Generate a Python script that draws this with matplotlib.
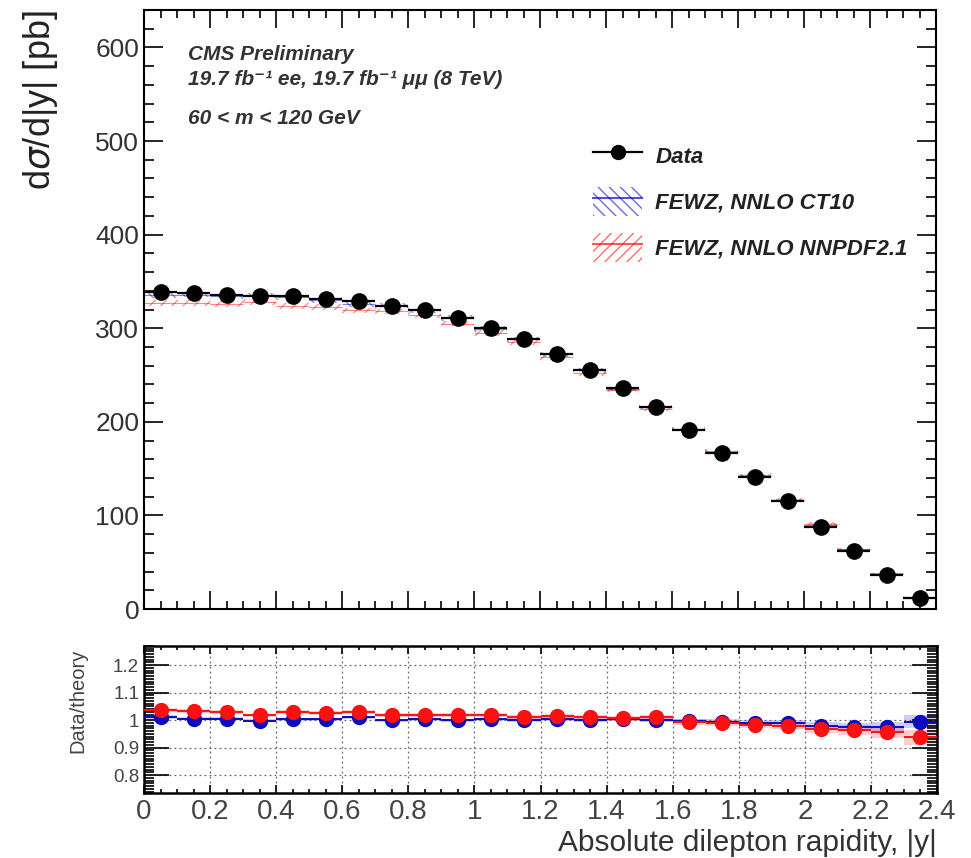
import matplotlib

matplotlib.use("Agg")
import matplotlib.pyplot as plt
import numpy as np
from matplotlib.lines import Line2D
from matplotlib.patches import Patch
from matplotlib.ticker import MultipleLocator

plt.rcParams["font.family"] = ["Liberation Sans", "DejaVu Sans"]

# --- data ---------------------------------------------------------------------
bin_edges = [0.0, 0.1, 0.2, 0.3, 0.4, 0.5, 0.6, 0.7, 0.8, 0.9, 1.0, 1.1, 1.2,
             1.3, 1.4, 1.5, 1.6, 1.7, 1.8, 1.9, 2.0, 2.1, 2.2, 2.3, 2.4]
bin_centers = [0.05, 0.15, 0.25, 0.35, 0.45, 0.55, 0.65, 0.75, 0.85, 0.95, 1.05, 1.15,
               1.25, 1.35, 1.45, 1.55, 1.65, 1.75, 1.85, 1.95, 2.05, 2.15, 2.25, 2.35]

data_xsec = [339, 338, 336, 334, 334, 331, 329, 324, 320, 311, 300, 288,
             273, 255, 236, 216, 191, 167, 141, 115, 88, 62, 36, 12]
data_err = [2, 2, 2, 2, 2, 2, 2, 2, 2, 2, 2, 2, 2, 2, 2, 2, 2, 2, 2, 2, 2, 1.5, 1.5, 1]

ct10_xsec = [335, 336, 334, 335, 333, 330, 326, 324, 319, 311, 299, 288,
             272, 255, 235, 216, 192, 168, 142, 116, 90, 64, 37, 12]
ct10_err = [3, 3, 3, 3, 3, 3, 3, 3, 3, 3, 3, 3, 2.5, 2.5, 2.5, 2.5, 2, 2, 2, 1.5, 1.5, 1, 1, 0.8]
nnpdf_xsec = [327, 327, 326, 328, 324, 323, 319, 318, 314, 305, 295, 285,
              269, 252, 234, 214, 192, 169, 143, 117, 91, 64, 38, 13]
nnpdf_err = [3, 3, 3, 3, 3, 3, 3, 3, 3, 3, 3, 3, 2.5, 2.5, 2.5, 2.5, 2, 2, 2, 1.5, 1.5, 1, 1, 0.8]

ratio_ct10 = [1.012, 1.005, 1.005, 0.998, 1.003, 1.003, 1.010, 1.000, 1.003, 1.000, 1.003, 1.000,
              1.005, 1.000, 1.005, 1.000, 0.997, 0.995, 0.990, 0.990, 0.980, 0.975, 0.975, 0.995]
ratio_ct10_err = [0.006, 0.006, 0.006, 0.006, 0.006, 0.006, 0.006, 0.006, 0.006, 0.006, 0.006, 0.007,
                  0.007, 0.007, 0.008, 0.008, 0.009, 0.010, 0.011, 0.012, 0.014, 0.016, 0.020, 0.025]
ratio_nnpdf = [1.036, 1.033, 1.030, 1.017, 1.030, 1.025, 1.030, 1.020, 1.020, 1.018, 1.018, 1.012,
               1.016, 1.010, 1.007, 1.010, 0.993, 0.990, 0.983, 0.980, 0.969, 0.964, 0.957, 0.937]
ratio_nnpdf_err = [0.007, 0.007, 0.007, 0.007, 0.007, 0.007, 0.007, 0.007, 0.007, 0.007, 0.007, 0.008,
                   0.008, 0.008, 0.009, 0.009, 0.010, 0.011, 0.012, 0.013, 0.015, 0.017, 0.021, 0.026]

RED = "#ff1010"
BLUE = "#0a0ac0"
TXT = "#222222"

fig = plt.figure(figsize=(9.71, 8.58), dpi=100)
ax = fig.add_axes([0.1483, 0.2902, 0.8157, 0.6981])
axr = fig.add_axes([0.1483, 0.0758, 0.8167, 0.1713])

edges = np.asarray(bin_edges)

# --- top panel ------------------------------------------------------------------
for xs, err, col, hatch in ((ct10_xsec, ct10_err, BLUE, "\\\\\\"),
                            (nnpdf_xsec, nnpdf_err, RED, "///")):
    xs, err = np.asarray(xs, float), np.asarray(err, float)
    ax.stairs(xs + err, edges, baseline=xs - err, fill=True, facecolor="none",
              edgecolor=col, hatch=hatch, lw=0, alpha=0.45)
    ax.hlines(xs, edges[:-1], edges[1:], color=col, lw=0.8, alpha=0.5)
ax.errorbar(bin_centers, data_xsec, xerr=0.05, yerr=data_err, fmt="o", color="k",
            ms=11, lw=1.6, capsize=0, zorder=5)

ax.set_xlim(0, 2.4)
ax.set_ylim(0, 640)
ax.xaxis.set_major_locator(MultipleLocator(0.2))
ax.xaxis.set_minor_locator(MultipleLocator(0.05))
ax.yaxis.set_major_locator(MultipleLocator(100))
ax.yaxis.set_minor_locator(MultipleLocator(20))
ax.tick_params(which="both", direction="in", top=True, right=True, width=1.2,
               labelbottom=False, labelsize=19, labelcolor="#333333")
ax.tick_params(axis="x", which="major", length=13)
ax.tick_params(axis="x", which="minor", length=6)
ax.tick_params(axis="y", which="major", length=14)
ax.tick_params(axis="y", which="minor", length=7)
for sp in ax.spines.values():
    sp.set_linewidth(1.5)
ax.set_ylabel(r"d$\sigma$/d|y| [pb]", fontsize=26, color=TXT, ha="right")
ax.yaxis.set_label_coords(-0.106, 1.0)

tkw = dict(transform=ax.transAxes, fontsize=15, weight="bold", style="italic", color="#333333")
ax.text(0.055, 0.9165, "CMS Preliminary", va="baseline", **tkw)
ax.text(0.055, 0.875, "19.7 fb\u207b\u00b9 ee, 19.7 fb\u207b\u00b9 \u03bc\u03bc (8 TeV)",
        va="baseline", **tkw)
ax.text(0.055, 0.810, "60 < m < 120 GeV", va="baseline", **tkw)

handles = [
    Line2D([], [], color="k", marker="o", ms=10, lw=1.6),
    (Patch(facecolor="none", edgecolor=BLUE, hatch="\\\\\\", lw=0, alpha=0.6),
     Line2D([], [], color=BLUE, lw=1.5, alpha=0.7)),
    (Patch(facecolor="none", edgecolor=RED, hatch="///", lw=0, alpha=0.6),
     Line2D([], [], color=RED, lw=1.5, alpha=0.7)),
]
labels = ["Data", "FEWZ, NNLO CT10", "FEWZ, NNLO NNPDF2.1"]
leg = ax.legend(handles, labels, loc="upper left", bbox_to_anchor=(0.553, 0.799),
                frameon=False, handlelength=2.2, handleheight=1.6, labelspacing=0.78,
                borderpad=0, handletextpad=0.6,
                prop=dict(size=16, weight="bold", style="italic"))
for t in leg.get_texts():
    t.set_color("#222222")

# --- ratio panel ----------------------------------------------------------------
for r, e, col in ((ratio_ct10, ratio_ct10_err, BLUE), (ratio_nnpdf, ratio_nnpdf_err, RED)):
    r, e = np.asarray(r), np.asarray(e)
    axr.stairs(r + e, edges, baseline=r - e, fill=True, color=col, alpha=0.2, lw=0)
    axr.errorbar(bin_centers, r, xerr=0.05, yerr=e, fmt="o", color=col, ms=10,
                 lw=1.4, capsize=0, zorder=4)

axr.set_xlim(0, 2.4)
axr.set_ylim(0.735, 1.27)
axr.xaxis.set_minor_locator(MultipleLocator(0.05))
axr.yaxis.set_minor_locator(MultipleLocator(0.01))
axr.set_yticks([0.8, 0.9, 1.0, 1.1, 1.2])
axr.set_yticklabels(["0.8", "0.9", "1", "1.1", "1.2"])
axr.set_xticks([0, 0.2, 0.4, 0.6, 0.8, 1.0, 1.2, 1.4, 1.6, 1.8, 2.0, 2.2, 2.4])
axr.set_xticklabels(["0", "0.2", "0.4", "0.6", "0.8", "1", "1.2", "1.4", "1.6", "1.8",
                     "2", "2.2", "2.4"])
axr.tick_params(which="both", direction="in", top=True, right=True, width=1.2, colors="k",
                labelcolor="#444444")
axr.tick_params(axis="x", which="major", length=6, labelsize=20, pad=4)
axr.tick_params(axis="x", which="minor", length=3)
axr.tick_params(axis="y", which="major", length=18, labelsize=13.5)
axr.tick_params(axis="y", which="minor", length=7)
axr.grid(True, which="major", color="#666666", ls=(0, (1.5, 2.5)), lw=0.9)
for sp in axr.spines.values():
    sp.set_linewidth(1.8)
axr.set_ylabel("Data/theory", fontsize=14.5, color="#444444")
axr.yaxis.set_label_coords(-0.072, 0.63)
axr.set_xlabel("Absolute dilepton rapidity, |y|", fontsize=21.5, color="#333333",
               ha="right", va="center")
axr.xaxis.set_label_coords(1.0, -0.34)

fig.savefig("out.png", dpi=100)
